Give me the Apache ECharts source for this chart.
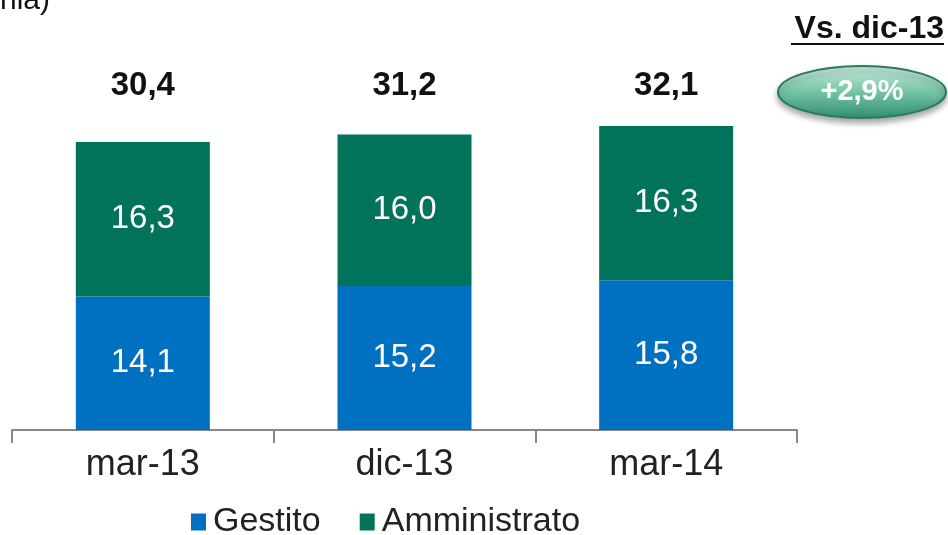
<!DOCTYPE html>
<html>
<head>
<meta charset="utf-8">
<script src="https://cdn.jsdelivr.net/npm/echarts@6/dist/echarts.min.js"></script>
<style>
  html, body { margin: 0; padding: 0; background: #fff; }
  #echartsMain { width: 948px; height: 535px; }
</style>
</head>
<body>
<div id="echartsMain"></div>
<script type="text/javascript">
  // dati del grafico
  var categorie = ['mar-13', 'dic-13', 'mar-14'];
  var gestito = [14.1, 15.2, 15.8];
  var amministrato = [16.3, 16.0, 16.3];
  var totali = [30.4, 31.2, 32.1];
  var variazione = '+2,9%';
  var confronto = 'Vs. dic-13';

  var FONT = 'Liberation Sans';
  function virgola(v) { return v.toFixed(1).replace('.', ','); }

  var myChart = echarts.init(document.getElementById('echartsMain'));

  var option = {
    animation: false,
    textStyle: { fontFamily: FONT },
    grid: { left: 12, right: 151, top: 70, bottom: 105 },
    legend: {
      bottom: -9,
      left: 186,
      itemWidth: 15,
      itemHeight: 17,
      itemGap: 39,
      icon: 'rect',
      textStyle: { fontSize: 34, color: '#222', fontFamily: FONT, padding: [0, 0, 0, 2] },
      data: ['Gestito', 'Amministrato']
    },
    xAxis: [{
      type: 'category',
      data: categorie,
      axisLine: { lineStyle: { color: '#888', width: 2 } },
      axisTick: { show: true, length: 13, interval: 0, lineStyle: { color: '#888', width: 2 } },
      axisLabel: { fontSize: 36, color: '#222', margin: 17, fontFamily: FONT }
    }, {
      type: 'category',
      position: 'top',
      data: categorie,
      axisLine: { show: false },
      axisTick: { show: false },
      axisLabel: {
        inside: true,
        margin: -1,
        fontSize: 33,
        fontWeight: 'bold',
        color: '#111',
        fontFamily: FONT,
        formatter: function (v, i) { return virgola(totali[i]); }
      }
    }],
    yAxis: {
      type: 'value',
      min: 0,
      max: 38,
      show: false,
      splitLine: { show: false }
    },
    series: [{
      name: 'Gestito',
      type: 'bar',
      stack: 'tot',
      barWidth: 134,
      data: gestito,
      itemStyle: { color: '#0070C0' },
      label: {
        show: true, position: 'inside', color: '#fff', fontSize: 33,
        fontFamily: FONT, formatter: function (p) { return virgola(p.value); }
      }
    }, {
      name: 'Amministrato',
      type: 'bar',
      stack: 'tot',
      barWidth: 134,
      data: amministrato,
      itemStyle: { color: '#00735A' },
      label: {
        show: true, position: 'inside', color: '#fff', fontSize: 33,
        fontFamily: FONT, formatter: function (p) { return virgola(p.value); }
      }
    }],
    graphic: [{
      type: 'text',
      left: 0,
      top: -14,
      style: { text: 'nia)', fontSize: 30, fill: '#111', fontFamily: FONT }
    }, {
      type: 'text',
      right: 4,
      top: 13,
      style: { text: confronto, fontSize: 32, fontWeight: 'bold', fill: '#111', fontFamily: FONT }
    }, {
      type: 'line',
      shape: { x1: 791, y1: 44, x2: 944, y2: 44 },
      style: { stroke: '#111', lineWidth: 2 }
    }, {
      type: 'ellipse',
      shape: { cx: 862, cy: 92, rx: 84, ry: 26 },
      style: {
        fill: new echarts.graphic.LinearGradient(0, 0, 0, 1, [
          { offset: 0, color: '#cdeee1' },
          { offset: 0.45, color: '#7cc8aa' },
          { offset: 1, color: '#2f8f6e' }
        ]),
        stroke: '#2a7a5c',
        lineWidth: 2,
        shadowBlur: 6,
        shadowOffsetY: 4,
        shadowColor: 'rgba(0,0,0,0.35)'
      }
    }, {
      type: 'text',
      x: 862,
      y: 92,
      style: {
        text: variazione, fontSize: 29, fontWeight: 'bold', fill: '#fff',
        fontFamily: FONT, align: 'center', verticalAlign: 'middle'
      }
    }]
  };

  myChart.setOption(option);
</script>
</body>
</html>
